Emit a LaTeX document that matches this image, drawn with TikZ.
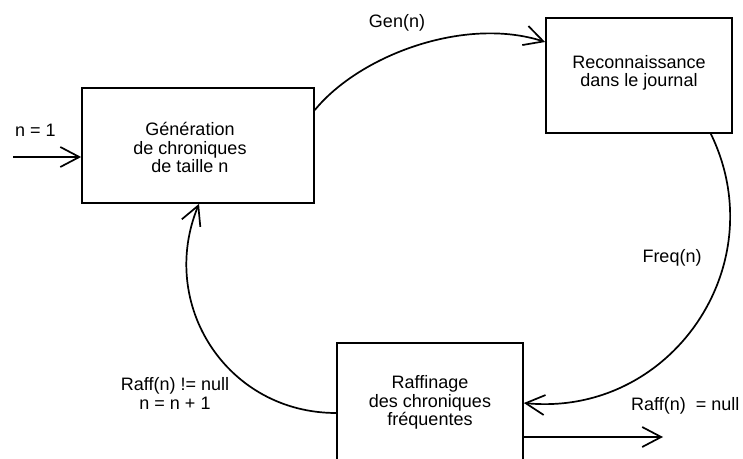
\documentclass[tikz,border=0pt]{standalone}
\usepackage{fontspec}
\setmainfont{Liberation Sans}
\usetikzlibrary{arrows.meta}
\begin{document}
\begin{tikzpicture}[x=1pt,y=1pt,
  every node/.style={font=\fontsize{18}{18.5}\selectfont},
  box/.style={draw, line width=1.7pt, inner sep=0pt, minimum width=186pt, minimum height=115pt},
  lbl/.style={align=center, inner sep=0pt},
  flow/.style={line width=1.7pt, -{Straight Barb[length=19pt,width=20pt]}}
]
\useasboundingbox (0,0) rectangle (743,458);

% process boxes
\node[box, minimum width=232pt] (b1) at (198,312.5) {};
\node[box] (b2) at (639,382.5) {};
\node[box, minimum height=125pt] (b3) at (430,52.5) {};

% box texts
\node[lbl] (t1) at (190,310.5) {Génération\\de chroniques\\de taille n};
\node[lbl] (t2) at (639,385) {Reconnaissance\\dans le journal};
\node[lbl] (t3) at (430,55.5) {Raffinage\\des chroniques\\fréquentes};

% free ends
\coordinate (in) at (13,301);
\coordinate (out) at (663,21);

% connectors
\draw[flow] (in) -- ([yshift=-11.5pt]b1.west);
\draw[flow] ([yshift=35.5pt]b1.east) .. controls +(45,55) and +(-80,26) .. ([yshift=33.5pt]b2.west);
\draw[flow] ([xshift=-22pt]b2.south east) .. controls +(-64.1:147) and +(-5.5:147) .. ([yshift=2.5pt]b3.east);
\draw[flow] ([yshift=-7.5pt]b3.west) .. controls +(180:109) and +(247.6:109) .. ([xshift=1pt]b1.south);
\draw[flow] ([yshift=-31.5pt]b3.east) -- (out);

% connector labels
\node[lbl, anchor=west] (l0) at (15,328) {n = 1};
\node[lbl] (l1) at (397,435) {Gen(n)};
\node[lbl] (l2) at (672,200) {Freq(n)};
\node[lbl] (l3) at (175,64.5) {Raff(n) != null\\n = n + 1};
\node[lbl, anchor=west] (l4) at (631,52) {Raff(n)~ = null};
\end{tikzpicture}
\end{document}
